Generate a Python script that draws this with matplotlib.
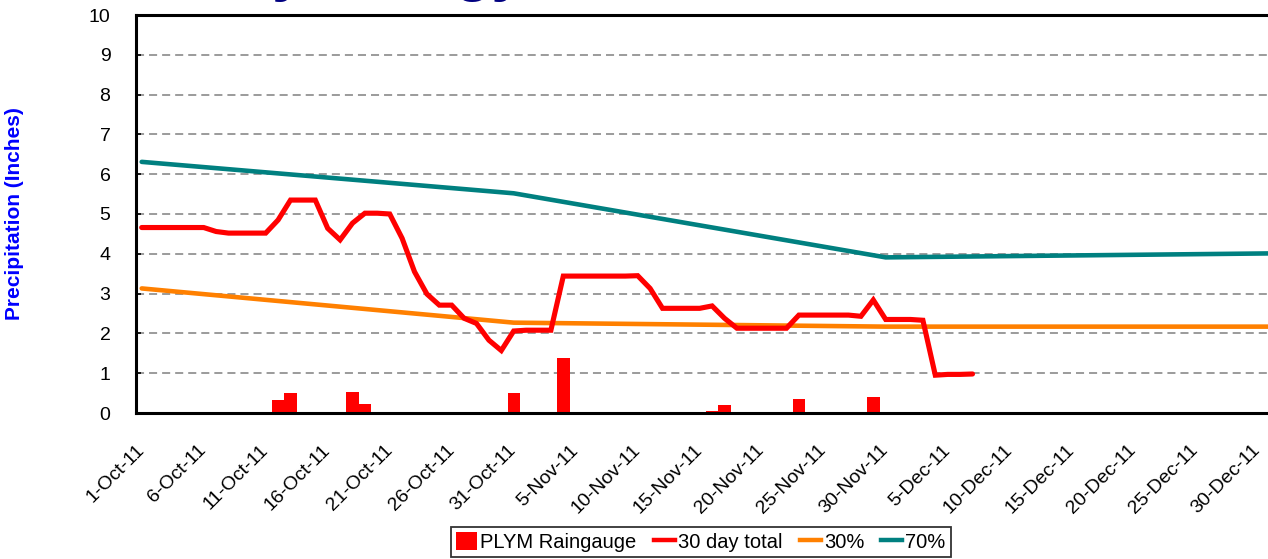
import matplotlib
matplotlib.use("Agg")
import matplotlib.pyplot as plt
import matplotlib.dates as mdates
import pandas as pd
import numpy as np
from matplotlib.patches import Patch
from matplotlib.lines import Line2D

plt.rcParams['font.family'] = ['Liberation Sans', 'DejaVu Sans']
plt.rcParams['lines.scale_dashes'] = False

# ---------------- data ----------------
tick_labels = ['1-Oct-11', '6-Oct-11', '11-Oct-11', '16-Oct-11', '21-Oct-11', '26-Oct-11',
               '31-Oct-11', '5-Nov-11', '10-Nov-11', '15-Nov-11', '20-Nov-11', '25-Nov-11',
               '30-Nov-11', '5-Dec-11', '10-Dec-11', '15-Dec-11', '20-Dec-11', '25-Dec-11',
               '30-Dec-11']

rain_dates = ['2011-10-12', '2011-10-13', '2011-10-18', '2011-10-19', '2011-10-29',
              '2011-10-31', '2011-11-01', '2011-11-04', '2011-11-10', '2011-11-16',
              '2011-11-17', '2011-11-23', '2011-11-29', '2011-12-05', '2011-12-06']
rain_values = [0.33, 0.51, 0.52, 0.23, 0.01,
               0.49, 0.01, 1.39, 0.01, 0.06,
               0.19, 0.34, 0.41, 0.01, 0.01]

total_start = '2011-10-01'
total_values = [4.66, 4.66, 4.66, 4.66, 4.66, 4.66, 4.56, 4.52, 4.52, 4.52,
                4.52, 4.85, 5.35, 5.35, 5.35, 4.64, 4.35, 4.77, 5.02, 5.02,
                5.00, 4.39, 3.55, 2.99, 2.71, 2.71, 2.38, 2.25, 1.83, 1.57,
                2.06, 2.08, 2.08, 2.08, 3.44, 3.44, 3.44, 3.44, 3.44, 3.44,
                3.45, 3.13, 2.63, 2.63, 2.63, 2.63, 2.69, 2.38, 2.13, 2.13,
                2.13, 2.13, 2.13, 2.46, 2.46, 2.46, 2.46, 2.46, 2.43, 2.84,
                2.35, 2.35, 2.35, 2.33, 0.95, 0.97, 0.97, 0.98]

normal_dates = ['2011-10-01', '2011-10-31', '2011-11-30', '2011-12-31']
p30_values = [3.13, 2.27, 2.17, 2.17]
p70_values = [6.31, 5.52, 3.91, 4.01]

# ---------------- figure ----------------
W, H = 1268, 559
fig = plt.figure(figsize=(W / 100, H / 100), dpi=100)
ax_left, ax_right = 135.5, 1276.3
ax_top, ax_bottom = 15, 413
ax = fig.add_axes([ax_left / W, (H - ax_bottom) / H,
                   (ax_right - ax_left) / W, (ax_bottom - ax_top) / H])

rain_x = pd.to_datetime(rain_dates)
total_x = pd.date_range(total_start, periods=len(total_values), freq='D')
normal_x = pd.to_datetime(normal_dates)

ax.bar(rain_x, rain_values, width=1.0, color='#FF0000', linewidth=0, zorder=2)
ax.plot(total_x, total_values, color='#FF0000', lw=3.7, solid_capstyle='round',
        solid_joinstyle='miter', zorder=4)
ax.plot(normal_x, p30_values, color='#FF8000', lw=3.3, solid_capstyle='round', zorder=3)
ax.plot(normal_x, p70_values, color='#008080', lw=3.3, solid_capstyle='round', zorder=3)

start = pd.Timestamp('2011-10-01')
end = pd.Timestamp('2011-12-31')
ax.set_xlim(mdates.date2num(start) - 0.5, mdates.date2num(end) + 0.5)
ax.set_ylim(0, 10)

tick_pos = [mdates.date2num(start) + 5 * i for i in range(len(tick_labels))]
ax.set_xticks(tick_pos)
ax.set_xticklabels(tick_labels, rotation=45, ha='right', va='center',
                   rotation_mode='anchor', fontsize=14)
ax.tick_params(axis='x', length=0, pad=25)

ax.set_yticks(range(0, 11))
ax.set_yticklabels([str(v) for v in range(0, 11)], fontsize=14)
ax.tick_params(axis='y', direction='in', length=3.5, width=1.2, pad=18)

ax.set_axisbelow(True)
ax.yaxis.grid(True, color='#808080', linewidth=1.1, linestyle=(0, (5.8, 3.6)))

for s in ['left', 'bottom', 'top', 'right']:
    ax.spines[s].set_linewidth(2.2)
    ax.spines[s].set_color('black')

ax.set_ylabel('Precipitation (Inches)', fontsize=15, fontweight='bold', color='#0000FF',
              labelpad=10)
ax.yaxis.set_label_coords(-(ax_left - 24) / (ax_right - ax_left), 0.5)

# Partially visible title (only the descenders show at the top of the image)
fig.text(229 / W, 1 + 10.5 / H, 'Hydrology', fontsize=43, fontweight='bold',
         color='#000080', ha='left', va='baseline')

handles = [Patch(facecolor='#FF0000', edgecolor='none'),
           Line2D([], [], color='#FF0000', lw=3.2),
           Line2D([], [], color='#FF8000', lw=3.2),
           Line2D([], [], color='#008080', lw=3.2)]
labels = ['PLYM Raingauge', '30 day total', '30%', '70%']
leg = fig.legend(handles, labels, loc='center', bbox_to_anchor=(701 / W, 1 - 542 / H),
                 ncol=4, fontsize=14.5, frameon=True, fancybox=False, shadow=False,
                 handlelength=1.05, handleheight=1.0, handletextpad=0.15,
                 columnspacing=0.85, borderpad=0.25, borderaxespad=0)
leg.get_frame().set_edgecolor('black')
leg.get_frame().set_linewidth(1.3)

fig.savefig('out.png', dpi=100)
